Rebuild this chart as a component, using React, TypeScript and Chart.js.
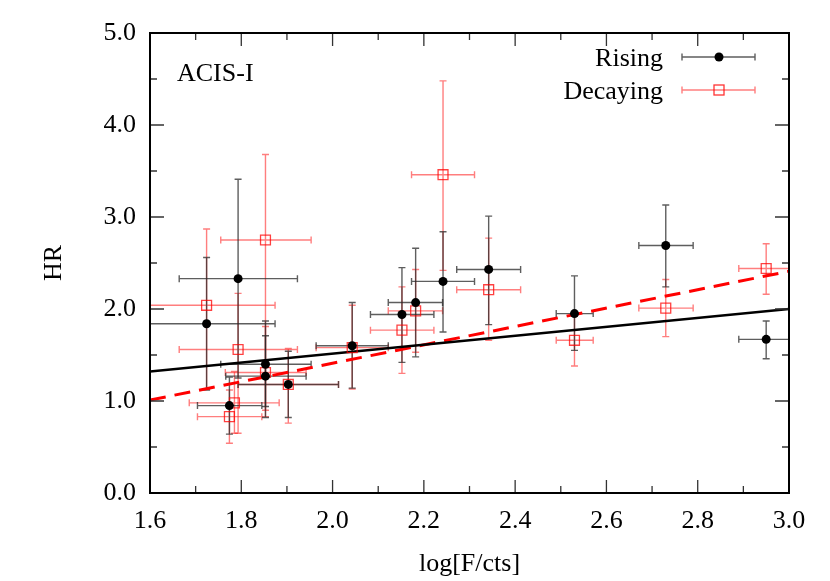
import React, { useEffect, useRef } from "react";
import { Chart, registerables } from "chart.js";

Chart.register(...registerables);

const FONT = "'Liberation Serif', 'Times New Roman', Times, serif";

// Rising (black circles)
const risingX = [1.724, 1.774, 1.793, 1.853, 1.853, 1.903, 2.043, 2.152, 2.182, 2.242, 2.342, 2.53, 2.73, 2.95];
const risingY = [1.84, 0.95, 2.33, 1.4, 1.27, 1.18, 1.6, 1.94, 2.07, 2.3, 2.43, 1.95, 2.69, 1.67];
const risingXLo = [1.574, 1.704, 1.664, 1.755, 1.766, 1.793, 1.964, 2.083, 2.122, 2.173, 2.272, 2.49, 2.671, 2.89];
const risingXHi = [1.874, 1.845, 1.923, 1.953, 1.942, 2.013, 2.122, 2.222, 2.241, 2.311, 2.412, 2.571, 2.79, 3.01];
const risingYLo = [1.12, 0.64, 1.25, 0.94, 0.82, 0.82, 1.14, 1.42, 1.48, 1.75, 1.83, 1.55, 2.24, 1.46];
const risingYHi = [2.56, 1.26, 3.41, 1.87, 1.71, 1.54, 2.07, 2.45, 2.66, 2.84, 3.01, 2.36, 3.13, 1.87];

// Decaying (red open squares)
const decayX = [1.724, 1.774, 1.785, 1.793, 1.853, 1.853, 1.903, 2.043, 2.152, 2.182, 2.242, 2.342, 2.53, 2.73, 2.95];
const decayY = [2.04, 0.83, 0.98, 1.56, 2.75, 1.31, 1.18, 1.58, 1.77, 1.98, 3.46, 2.21, 1.66, 2.01, 2.44];
const decayXLo = [1.574, 1.704, 1.686, 1.664, 1.755, 1.765, 1.793, 1.964, 2.083, 2.122, 2.173, 2.272, 2.49, 2.671, 2.89];
const decayXHi = [1.874, 1.845, 1.883, 1.923, 1.953, 1.942, 2.013, 2.122, 2.222, 2.241, 2.311, 2.412, 2.571, 2.79, 3.01];
const decayYLo = [1.13, 0.54, 0.65, 0.65, 0.83, 0.9, 0.76, 1.13, 1.3, 1.53, 2.42, 1.66, 1.38, 1.7, 2.16];
const decayYHi = [2.87, 1.12, 1.32, 2.17, 3.68, 1.81, 1.57, 2.04, 2.24, 2.43, 4.48, 2.77, 1.92, 2.32, 2.71];

// Linear fits
const fitX = [1.6, 3.0];
const risingFitY = [1.32, 2.0];
const decayFitY = [1.01, 2.41];

const xMin = 1.6, xMax = 3.0, xMajor = 0.2, xMinor = 0.1;
const yMin = 0, yMax = 5, yMajor = 1, yMinor = 0.5;

const BLACK_BAR = "rgba(40,40,40,0.75)";
const RED_BAR = "rgba(255,40,40,0.6)";

export default function App() {
  const ref = useRef<HTMLCanvasElement>(null);

  useEffect(() => {
    document.body.style.margin = "0";
    const canvas = ref.current!;

    const drawBars = (ctx: any, xs: any, ys: any, xv: number[], yv: number[], xlo: number[], xhi: number[], ylo: number[], yhi: number[], color: string) => {
      ctx.strokeStyle = color;
      ctx.lineWidth = 1.4;
      const cap = 3.5;
      for (let i = 0; i < xv.length; i++) {
        const px = xs.getPixelForValue(xv[i]);
        const py = ys.getPixelForValue(yv[i]);
        const x0 = xs.getPixelForValue(xlo[i]);
        const x1 = xs.getPixelForValue(xhi[i]);
        const y0 = ys.getPixelForValue(ylo[i]);
        const y1 = ys.getPixelForValue(yhi[i]);
        ctx.beginPath();
        ctx.moveTo(x0, py); ctx.lineTo(x1, py);
        ctx.moveTo(x0, py - cap); ctx.lineTo(x0, py + cap);
        ctx.moveTo(x1, py - cap); ctx.lineTo(x1, py + cap);
        ctx.moveTo(px, y0); ctx.lineTo(px, y1);
        ctx.moveTo(px - cap, y0); ctx.lineTo(px + cap, y0);
        ctx.moveTo(px - cap, y1); ctx.lineTo(px + cap, y1);
        ctx.stroke();
      }
    };

    const errorBarPlugin = {
      id: "errorBars",
      beforeDatasetsDraw(chart: any) {
        const { ctx, chartArea, scales } = chart;
        ctx.save();
        ctx.beginPath();
        ctx.rect(chartArea.left, chartArea.top, chartArea.right - chartArea.left, chartArea.bottom - chartArea.top);
        ctx.clip();
        drawBars(ctx, scales.x, scales.y, decayX, decayY, decayXLo, decayXHi, decayYLo, decayYHi, RED_BAR);
        drawBars(ctx, scales.x, scales.y, risingX, risingY, risingXLo, risingXHi, risingYLo, risingYHi, BLACK_BAR);
        ctx.restore();
      },
    };

    const framePlugin = {
      id: "frame",
      afterDraw(chart: any) {
        const { ctx, chartArea: a, scales } = chart;
        const xs = scales.x, ys = scales.y;
        ctx.save();
        ctx.strokeStyle = "#333";
        ctx.lineWidth = 1.3;
        ctx.beginPath();
        const nx = Math.round((xMax - xMin) / xMinor);
        for (let i = 0; i <= nx; i++) {
          const v = xMin + i * xMinor;
          const major = i % Math.round(xMajor / xMinor) === 0;
          const L = major ? 13 : 7;
          const px = xs.getPixelForValue(v);
          ctx.moveTo(px, a.bottom); ctx.lineTo(px, a.bottom - L);
          ctx.moveTo(px, a.top); ctx.lineTo(px, a.top + L);
        }
        const ny = Math.round((yMax - yMin) / yMinor);
        for (let i = 0; i <= ny; i++) {
          const v = yMin + i * yMinor;
          const major = i % Math.round(yMajor / yMinor) === 0;
          const L = major ? 14 : 7;
          const py = ys.getPixelForValue(v);
          ctx.moveTo(a.left, py); ctx.lineTo(a.left + L, py);
          ctx.moveTo(a.right, py); ctx.lineTo(a.right - L, py);
        }
        ctx.stroke();
        ctx.strokeStyle = "#000";
        ctx.lineWidth = 2;
        ctx.strokeRect(a.left, a.top, a.right - a.left, a.bottom - a.top);

        // Panel label
        ctx.fillStyle = "#000";
        ctx.font = `26px ${FONT}`;
        ctx.textAlign = "left";
        ctx.textBaseline = "alphabetic";
        ctx.fillText("ACIS-I", 177, 81);

        // Legend
        ctx.textAlign = "right";
        ctx.fillText("Rising", 663, 66);
        ctx.fillText("Decaying", 663, 99);
        const legendRow = (y: number, color: string) => {
          ctx.strokeStyle = color;
          ctx.lineWidth = 1.4;
          ctx.beginPath();
          ctx.moveTo(682, y); ctx.lineTo(755, y);
          ctx.moveTo(682, y - 3.5); ctx.lineTo(682, y + 3.5);
          ctx.moveTo(755, y - 3.5); ctx.lineTo(755, y + 3.5);
          ctx.stroke();
        };
        legendRow(57, BLACK_BAR);
        legendRow(90, RED_BAR);
        ctx.fillStyle = "#000";
        ctx.beginPath();
        ctx.arc(719, 57, 4.5, 0, Math.PI * 2);
        ctx.fill();
        ctx.strokeStyle = "rgba(255,0,0,0.8)";
        ctx.lineWidth = 1.3;
        ctx.strokeRect(714, 85, 10, 10);
        ctx.restore();
      },
    };

    const chart = new Chart(canvas, {
      type: "scatter",
      data: {
        datasets: [
          {
            label: "Rising",
            data: risingX.map((x, i) => ({ x, y: risingY[i] })),
            pointStyle: "circle",
            pointRadius: 4.5,
            pointBackgroundColor: "#000",
            pointBorderWidth: 0,
            order: 0,
          },
          {
            label: "Decaying",
            data: decayX.map((x, i) => ({ x, y: decayY[i] })),
            pointStyle: "rect",
            pointRadius: 7,
            pointBackgroundColor: "rgba(0,0,0,0)",
            pointBorderColor: "rgba(255,0,0,0.75)",
            pointBorderWidth: 1.3,
            order: 1,
          },
          {
            type: "line",
            label: "Rising fit",
            data: fitX.map((x, i) => ({ x, y: risingFitY[i] })),
            borderColor: "#000",
            borderWidth: 2.5,
            pointRadius: 0,
            fill: false,
            order: 2,
          } as any,
          {
            type: "line",
            label: "Decaying fit",
            data: fitX.map((x, i) => ({ x, y: decayFitY[i] })),
            borderColor: "#ff0000",
            borderWidth: 3,
            borderDash: [16, 9],
            pointRadius: 0,
            fill: false,
            order: 3,
          } as any,
        ],
      },
      options: {
        animation: false,
        responsive: false,
        layout: { padding: { top: 33, right: 41, left: 0, bottom: 0 } },
        plugins: { legend: { display: false }, tooltip: { enabled: false } },
        scales: {
          x: {
            type: "linear",
            min: xMin,
            max: xMax,
            grid: { display: false, drawTicks: false },
            border: { display: false },
            ticks: {
              stepSize: xMajor,
              padding: 13,
              color: "#000",
              font: { family: FONT, size: 26 },
              callback: (v: any) => Number(v).toFixed(1),
            },
            title: {
              display: true,
              text: "log[F/cts]",
              color: "#000",
              font: { family: FONT, size: 26 },
              padding: { top: 0, bottom: 1 },
            },
            afterFit: (s: any) => { s.height = 88; },
          },
          y: {
            type: "linear",
            min: yMin,
            max: yMax,
            grid: { display: false, drawTicks: false },
            border: { display: false },
            ticks: {
              stepSize: yMajor,
              padding: 14,
              color: "#000",
              font: { family: FONT, size: 26 },
              callback: (v: any) => Number(v).toFixed(1),
            },
            title: {
              display: true,
              text: "HR",
              color: "#000",
              font: { family: FONT, size: 26 },
              padding: { top: 39, bottom: 0 },
            },
            afterFit: (s: any) => { s.width = 150; },
          },
        },
      },
      plugins: [errorBarPlugin, framePlugin],
    });

    return () => chart.destroy();
  }, []);

  return (
    <div style={{ width: 830, height: 581 }}>
      <canvas ref={ref} width={830} height={581} style={{ display: "block" }} />
    </div>
  );
}
